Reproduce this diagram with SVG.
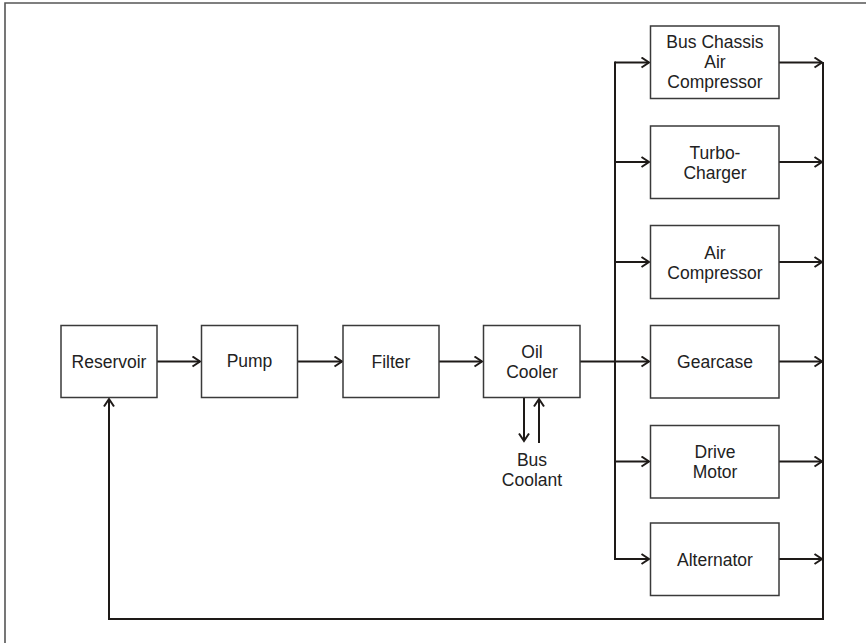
<svg xmlns="http://www.w3.org/2000/svg" width="866" height="643" viewBox="0 0 866 643">
<defs>
<style>
.box{fill:#fff;stroke:#3a3a3a;stroke-width:1.5}
.lbl{font-family:"Liberation Sans",Arial,sans-serif;font-size:17.5px;fill:#222;text-anchor:middle}
.con{fill:none;stroke:#1e1a18;stroke-width:2}
</style>
<marker id="ah" markerWidth="12" markerHeight="12" refX="9" refY="6" orient="auto" markerUnits="userSpaceOnUse">
<path d="M1.5,1 L9,6 L1.5,11" fill="none" stroke="#1e1a18" stroke-width="2"/>
</marker>
</defs>
<rect width="866" height="643" fill="#fff"/>
<path d="M5,643 V3 H866" fill="none" stroke="#555" stroke-width="1.6"/>
<g id="connectors">
<line class="con" x1="157" y1="361.5" x2="200" y2="361.5" marker-end="url(#ah)"/>
<line class="con" x1="297" y1="361.5" x2="342" y2="361.5" marker-end="url(#ah)"/>
<line class="con" x1="439" y1="361.5" x2="482" y2="361.5" marker-end="url(#ah)"/>
<line class="con" x1="580" y1="361.5" x2="649" y2="361.5" marker-end="url(#ah)"/>
<line class="con" x1="615" y1="61.5" x2="615" y2="560"/>
<path class="con" d="M615,62.5 H649" marker-end="url(#ah)"/>
<path class="con" d="M615,162 H649" marker-end="url(#ah)"/>
<path class="con" d="M615,262 H649" marker-end="url(#ah)"/>
<path class="con" d="M615,461.5 H649" marker-end="url(#ah)"/>
<path class="con" d="M615,559 H649" marker-end="url(#ah)"/>
<path class="con" d="M779,62.5 H822" marker-end="url(#ah)"/>
<path class="con" d="M779,162 H822" marker-end="url(#ah)"/>
<path class="con" d="M779,262 H822" marker-end="url(#ah)"/>
<path class="con" d="M779,361.5 H822" marker-end="url(#ah)"/>
<path class="con" d="M779,461.5 H822" marker-end="url(#ah)"/>
<path class="con" d="M779,559 H822" marker-end="url(#ah)"/>
<path d="M823,62 V619 H109 V399" fill="none" stroke="#1e1a18" stroke-width="2" marker-end="url(#ah)"/>
<line class="con" x1="524" y1="398" x2="524" y2="441" marker-end="url(#ah)"/>
<line class="con" x1="539" y1="443" x2="539" y2="399" marker-end="url(#ah)"/>
</g>
<g id="reservoir"><rect class="box" x="61" y="325.5" width="96" height="72"/><text class="lbl" x="109" y="368">Reservoir</text></g>
<g id="pump"><rect class="box" x="201.5" y="325.5" width="96" height="72"/><text class="lbl" x="249.5" y="367">Pump</text></g>
<g id="filter"><rect class="box" x="343" y="325.5" width="96" height="72"/><text class="lbl" x="391" y="368">Filter</text></g>
<g id="oilcooler"><rect class="box" x="483.5" y="325.5" width="96.5" height="72"/><text class="lbl" x="532" y="358">Oil</text><text class="lbl" x="532" y="378">Cooler</text></g>
<g id="buscoolant"><text class="lbl" x="532" y="466">Bus</text><text class="lbl" x="532" y="485.5">Coolant</text></g>
<g id="buschassis"><rect class="box" x="650.5" y="26" width="128.5" height="72.5"/><text class="lbl" x="715" y="48">Bus Chassis</text><text class="lbl" x="715" y="68">Air</text><text class="lbl" x="715" y="88">Compressor</text></g>
<g id="turbocharger"><rect class="box" x="650.5" y="126" width="128.5" height="72.5"/><text class="lbl" x="715" y="158.5">Turbo-</text><text class="lbl" x="715" y="178.5">Charger</text></g>
<g id="aircompressor"><rect class="box" x="650.5" y="225.5" width="128.5" height="73"/><text class="lbl" x="715" y="258.5">Air</text><text class="lbl" x="715" y="278.5">Compressor</text></g>
<g id="gearcase"><rect class="box" x="650.5" y="325.5" width="128.5" height="72.5"/><text class="lbl" x="715" y="368">Gearcase</text></g>
<g id="drivemotor"><rect class="box" x="650.5" y="425.5" width="128.5" height="72.5"/><text class="lbl" x="715" y="458">Drive</text><text class="lbl" x="715" y="478">Motor</text></g>
<g id="alternator"><rect class="box" x="650.5" y="523" width="128.5" height="72.5"/><text class="lbl" x="715" y="565.5">Alternator</text></g>
</svg>
